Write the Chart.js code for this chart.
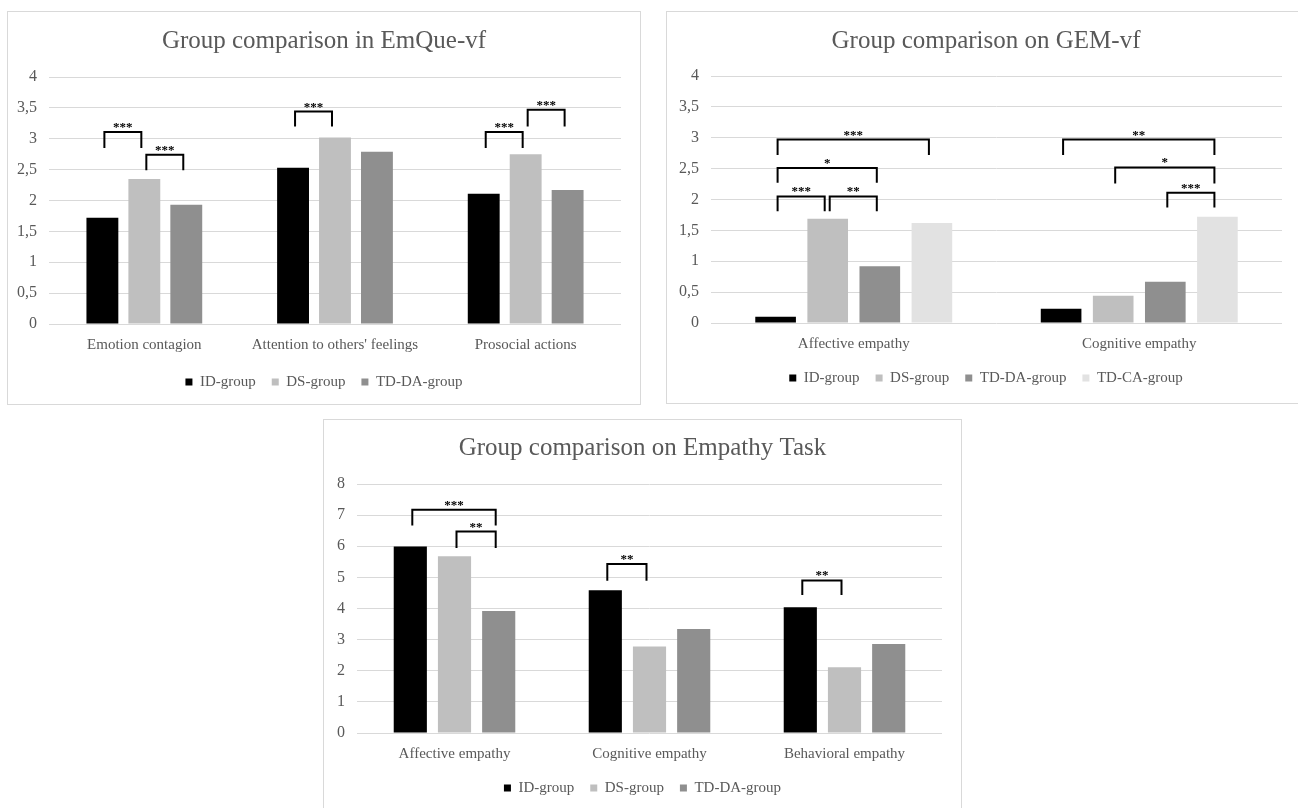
<!DOCTYPE html>
<html>
<head>
<meta charset="utf-8">
<title>Group comparisons</title>
<script src="https://cdn.jsdelivr.net/npm/chart.js@4.4.1/dist/chart.umd.min.js"></script>
<style>
    html, body { margin: 0; padding: 0; background: #fff; width: 1298px; height: 808px; overflow: hidden; }
    .panel { position: absolute; border: 1px solid #d9d9d9; background: #fff; }
    .panel canvas { display: block; }
</style>
</head>
<body>
<div class="panel" style="left:7px; top:11px; width:632px; height:392px;"><canvas id="emque"></canvas></div>
<div class="panel" style="left:666px; top:11px; width:638px; height:391px;"><canvas id="gem"></canvas></div>
<div class="panel" style="left:323px; top:419px; width:637px; height:390px;"><canvas id="task"></canvas></div>
<script>
/* ---------- data ---------- */
const groups = ['ID-group', 'DS-group', 'TD-DA-group', 'TD-CA-group'];

// EmQue-vf
const emqueCategories = ['Emotion contagion', "Attention to others' feelings", 'Prosocial actions'];
const emqueID = [1.72, 2.53, 2.11];
const emqueDS = [2.35, 3.02, 2.75];
const emqueTDDA = [1.93, 2.79, 2.17];
const emqueTicks = ['0', '0,5', '1', '1,5', '2', '2,5', '3', '3,5', '4'];
// significance brackets: category, from group, to group, line value, end value, stars
const emqueSig = [
    [0, 0, 1, 3.11, 2.85, '***'],
    [0, 1, 2, 2.74, 2.49, '***'],
    [1, 0, 1, 3.44, 3.20, '***'],
    [2, 0, 1, 3.11, 2.85, '***'],
    [2, 1, 2, 3.47, 3.20, '***']
];

// GEM-vf
const gemCategories = ['Affective empathy', 'Cognitive empathy'];
const gemID = [0.10, 0.23];
const gemDS = [1.69, 0.44];
const gemTDDA = [0.92, 0.67];
const gemTDCA = [1.62, 1.72];
const gemTicks = ['0', '0,5', '1', '1,5', '2', '2,5', '3', '3,5', '4'];
const gemSig = [
    [0, 0, 3, 2.97, 2.72, '***'],
    [0, 0, 2, 2.51, 2.27, '*'],
    [0, 0, 1, 2.05, 1.81, '***'],
    [0, 1, 2, 2.05, 1.81, '**'],
    [1, 0, 3, 2.97, 2.72, '**'],
    [1, 1, 3, 2.52, 2.26, '*'],
    [1, 2, 3, 2.11, 1.87, '***']
];

// Empathy Task
const taskCategories = ['Affective empathy', 'Cognitive empathy', 'Behavioral empathy'];
const taskID = [5.99, 4.59, 4.04];
const taskDS = [5.68, 2.78, 2.11];
const taskTDDA = [3.92, 3.34, 2.86];
const taskTicks = ['0', '1', '2', '3', '4', '5', '6', '7', '8'];
const taskSig = [
    [0, 0, 2, 7.17, 6.67, '***'],
    [0, 1, 2, 6.47, 5.94, '**'],
    [1, 0, 1, 5.43, 4.89, '**'],
    [2, 0, 1, 4.90, 4.43, '**']
];

/* ---------- styling ---------- */
const groupColors = ['#000000', '#bfbfbf', '#8f8f8f', '#e2e2e2'];
const textColor = '#595959';
const gridColor = '#d9d9d9';
const serif = "'Liberation Serif', 'Times New Roman', serif";

Chart.defaults.font.family = serif;
Chart.defaults.color = textColor;

// draws the significance brackets above the bars
const bracketPlugin = {
    id: 'brackets',
    afterDatasetsDraw(chart, args, opts) {
        const ctx = chart.ctx;
        const yScale = chart.scales.y;
        ctx.save();
        ctx.strokeStyle = '#000';
        ctx.fillStyle = '#000';
        ctx.lineWidth = 2;
        ctx.font = 'bold 13px ' + serif;
        ctx.textAlign = 'center';
        ctx.textBaseline = 'alphabetic';
        opts.items.forEach(([cat, from, to, top, end, stars]) => {
            const x1 = chart.getDatasetMeta(from).data[cat].x + 2;
            const x2 = chart.getDatasetMeta(to).data[cat].x - 3;
            const yTop = yScale.getPixelForValue(top);
            const yEnd = yScale.getPixelForValue(end);
            ctx.beginPath();
            ctx.moveTo(x1, yEnd);
            ctx.lineTo(x1, yTop);
            ctx.lineTo(x2, yTop);
            ctx.lineTo(x2, yEnd);
            ctx.stroke();
            ctx.fillText(stars, (x1 + x2) / 2, yTop - 1);
        });
        ctx.restore();
    }
};

function makeChart(id, title, categories, series, ticks, max, step, sig, geo) {
    const datasets = series.map((values, i) => ({
        label: groups[i],
        data: values,
        backgroundColor: groupColors[i],
        borderWidth: 0,
        categoryPercentage: geo.catPct,
        barPercentage: geo.barPct
    }));

    return new Chart(document.getElementById(id), {
        type: 'bar',
        data: { labels: categories, datasets },
        plugins: [bracketPlugin],
        options: {
            responsive: true,
            maintainAspectRatio: false,
            animation: false,
            layout: { padding: { left: 0, right: 0, top: 0, bottom: geo.padBottom } },
            plugins: {
                title: {
                    display: true,
                    text: title,
                    color: textColor,
                    font: { size: 25, weight: 'normal' },
                    padding: { top: geo.titleTop, bottom: geo.titleBottom }
                },
                legend: {
                    position: 'bottom',
                    labels: {
                        boxWidth: 7,
                        boxHeight: 7,
                        padding: 16,
                        color: textColor,
                        font: { size: 15 }
                    }
                },
                tooltip: { enabled: false },
                brackets: { items: sig }
            },
            scales: {
                x: {
                    grid: { display: false, drawTicks: false },
                    border: { display: false },
                    ticks: { padding: 12, font: { size: 15 }, color: textColor, maxRotation: 0 },
                    afterFit: s => { s.height = geo.xHeight; }
                },
                y: {
                    min: 0,
                    max: max,
                    grid: { color: gridColor, lineWidth: 1, drawTicks: false },
                    border: { display: false },
                    ticks: {
                        stepSize: step,
                        padding: 12,
                        font: { size: 16 },
                        color: textColor,
                        callback: (v, i) => ticks[i]
                    },
                    afterFit: s => { s.width = geo.yWidth; }
                },
                // empty right-hand spacer so the plot ends short of the panel edge
                spacer: {
                    type: 'linear',
                    position: 'right',
                    grid: { display: false, drawTicks: false },
                    border: { display: false },
                    ticks: { display: false },
                    afterFit: s => { s.width = geo.padRight; }
                }
            }
        }
    });
}

makeChart('emque', 'Group comparison in EmQue-vf', emqueCategories,
    [emqueID, emqueDS, emqueTDDA], emqueTicks, 4, 0.5, emqueSig,
    { catPct: 0.66, barPct: 0.76, yWidth: 41, padRight: 19, titleTop: 14, titleBottom: 21, xHeight: 34.5, padBottom: 4.5 });

makeChart('gem', 'Group comparison on GEM-vf', gemCategories,
    [gemID, gemDS, gemTDDA, gemTDCA], gemTicks, 4, 0.5, gemSig,
    { catPct: 0.73, barPct: 0.78, yWidth: 44, padRight: 23, titleTop: 14, titleBottom: 20, xHeight: 31.5, padBottom: 7.5 });

makeChart('task', 'Group comparison on Empathy Task', taskCategories,
    [taskID, taskDS, taskTDDA], taskTicks, 8, 1, taskSig,
    { catPct: 0.68, barPct: 0.75, yWidth: 33, padRight: 19, titleTop: 13, titleBottom: 21, xHeight: 31.5, padBottom: 4.5 });
</script>
</body>
</html>
